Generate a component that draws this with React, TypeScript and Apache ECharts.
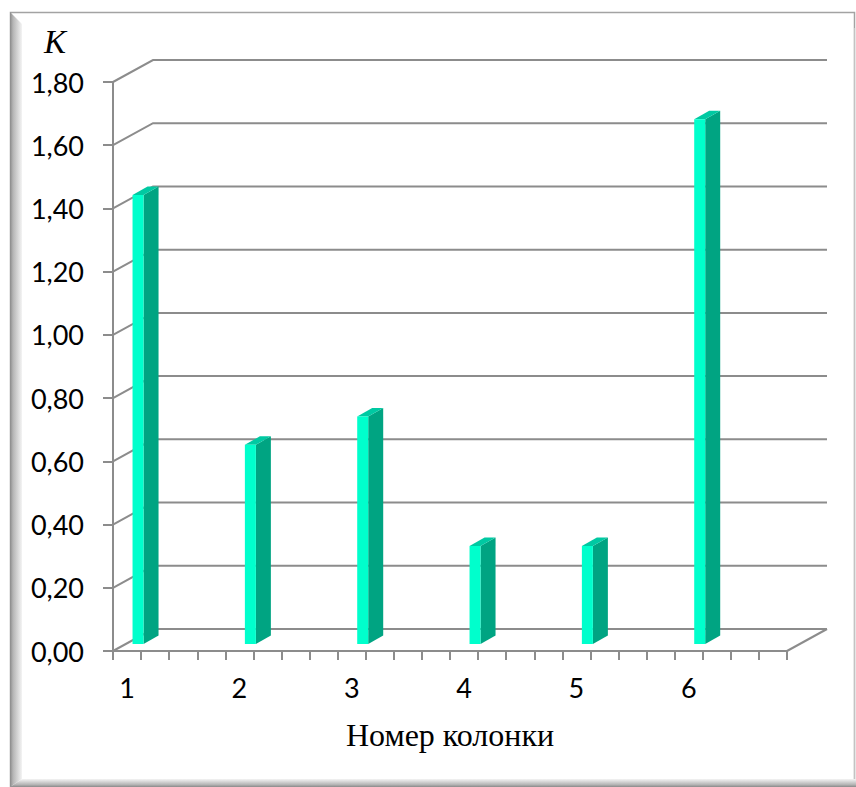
import React, { useEffect, useRef } from "react";
import * as echarts from "echarts";

// Column numbers and the coefficient K measured for each column
const columns = ["1", "2", "3", "4", "5", "6"];
const kValues = [1.42, 0.63, 0.72, 0.31, 0.31, 1.66];
// Value-axis ticks (also used for the gridlines on the back wall)
const yTicks = [0, 0.2, 0.4, 0.6, 0.8, 1.0, 1.2, 1.4, 1.6, 1.8];
// Each column occupies several minor slots on the category axis
const SLOTS_PER_COLUMN = 4;
const xAxisTitle = "Номер колонки";
const yAxisTitle = "K";

// Depth of the pseudo-3D box (back wall offset)
const WALL_DX = 40;
const WALL_DY = -22;
// Bar geometry inside the box
const BAR_SHIFT_X = 11;
const BAR_SHIFT_Y = -7;
const BAR_W = 11;
const BAR_DX = 15;
const BAR_DY = -8.5;

const GRID_COLOR = "#8c8c8c";
const FRONT_COLOR = "#00ffcc";
const SIDE_COLOR = "#00a482";
const TOP_COLOR = "#00c9a2";

const slotIds = Array.from({ length: columns.length * SLOTS_PER_COLUMN }, (_, i) => String(i));

export default function App() {
  const ref = useRef<HTMLDivElement>(null);

  useEffect(() => {
    if (!ref.current) return;
    const chart = echarts.init(ref.current, undefined, { renderer: "svg" });

    const wallSeries = {
      type: "custom",
      coordinateSystem: "cartesian2d",
      z: 1,
      silent: true,
      data: yTicks.map((v) => [0, v]),
      renderItem: (params: any, api: any) => {
        const cs = params.coordSys;
        const v = api.value(1);
        const yf = api.coord([0, v])[1];
        const left = cs.x;
        const right = cs.x + cs.width;
        const children: any[] = [
          {
            type: "polyline",
            shape: {
              points: [
                [left, yf],
                [left + WALL_DX, yf + WALL_DY],
                [right + WALL_DX, yf + WALL_DY],
              ],
            },
            style: { stroke: GRID_COLOR, lineWidth: 2, fill: "none" },
          },
        ];
        if (v === 0) {
          children.push({
            type: "line",
            shape: { x1: right, y1: yf, x2: right + WALL_DX, y2: yf + WALL_DY },
            style: { stroke: GRID_COLOR, lineWidth: 2 },
          });
        }
        return { type: "group", children };
      },
    };

    const barSeries = {
      type: "custom",
      coordinateSystem: "cartesian2d",
      z: 3,
      data: kValues.map((v, i) => [i * SLOTS_PER_COLUMN, v]),
      renderItem: (_params: any, api: any) => {
        const xi = api.value(0);
        const v = api.value(1);
        const top = api.coord([xi, v]);
        const base = api.coord([xi, 0]);
        const cx = top[0] + BAR_SHIFT_X;
        const x0 = cx - BAR_W / 2;
        const x1 = cx + BAR_W / 2;
        const yt = top[1] + BAR_SHIFT_Y;
        const yb = base[1] + BAR_SHIFT_Y;
        return {
          type: "group",
          children: [
            {
              type: "polygon",
              shape: { points: [[x1, yt], [x1 + BAR_DX, yt + BAR_DY], [x1 + BAR_DX, yb + BAR_DY], [x1, yb]] },
              style: { fill: SIDE_COLOR },
            },
            {
              type: "polygon",
              shape: { points: [[x0, yt], [x0 + BAR_DX, yt + BAR_DY], [x1 + BAR_DX, yt + BAR_DY], [x1, yt]] },
              style: { fill: TOP_COLOR },
            },
            {
              type: "polygon",
              shape: { points: [[x0, yt], [x1, yt], [x1, yb], [x0, yb]] },
              style: { fill: FRONT_COLOR },
            },
          ],
        };
      },
    };

    chart.setOption({
      animation: false,
      backgroundColor: "#ffffff",
      grid: { left: 113, top: 82, width: 674, height: 569, containLabel: false },
      xAxis: {
        type: "category",
        data: slotIds,
        boundaryGap: true,
        axisLine: { show: true, lineStyle: { color: GRID_COLOR, width: 2 } },
        axisTick: { show: true, interval: 0, length: 9, lineStyle: { color: GRID_COLOR, width: 2 } },
        axisLabel: {
          interval: 0,
          margin: 23,
          color: "#000000",
          fontFamily: "Lato",
          fontSize: 27,
          formatter: (_v: string, idx: number) =>
            idx % SLOTS_PER_COLUMN === 0 ? columns[idx / SLOTS_PER_COLUMN] : "",
        },
        splitLine: { show: false },
        name: xAxisTitle,
        nameLocation: "middle",
        nameGap: 68,
        nameTextStyle: { fontFamily: "Liberation Serif", fontSize: 32, color: "#000000" },
      },
      yAxis: {
        type: "value",
        min: 0,
        max: 1.8,
        interval: 0.2,
        axisLine: { show: true, lineStyle: { color: GRID_COLOR, width: 2 } },
        axisTick: { show: true, length: 10, lineStyle: { color: GRID_COLOR, width: 2 } },
        axisLabel: {
          margin: 29,
          color: "#000000",
          fontFamily: "Lato",
          fontSize: 27,
          formatter: (v: number) => v.toFixed(2).replace(".", ","),
        },
        splitLine: { show: false },
      },
      graphic: [
        {
          type: "rect",
          z: -10,
          silent: true,
          shape: { x: 10.5, y: 12.5, width: 844, height: 774 },
          style: { fill: "#ffffff", stroke: "#a3a3a3", lineWidth: 1.5 },
        },
        {
          type: "polygon",
          z: -9,
          silent: true,
          shape: { points: [[10, 12], [22, 24], [22, 779], [10, 787]] },
          style: {
            fill: new echarts.graphic.LinearGradient(0, 0, 1, 0, [
              { offset: 0, color: "#8a8a8a" },
              { offset: 0.25, color: "#b5b5b5" },
              { offset: 1, color: "#f4f4f4" },
            ]),
          },
        },
        {
          type: "polygon",
          z: -9,
          silent: true,
          shape: { points: [[10, 787], [22, 779], [856, 779], [856, 787]] },
          style: {
            fill: new echarts.graphic.LinearGradient(0, 0, 0, 1, [
              { offset: 0, color: "#f4f4f4" },
              { offset: 0.7, color: "#b5b5b5" },
              { offset: 1, color: "#8a8a8a" },
            ]),
          },
        },
        {
          type: "line",
          z: -9,
          silent: true,
          shape: { x1: 855, y1: 28, x2: 855, y2: 779 },
          style: { stroke: "#e3e3e3", lineWidth: 1 },
        },
        {
          type: "text",
          z: 5,
          left: 44,
          top: 25,
          style: {
            text: yAxisTitle,
            fontFamily: "Liberation Serif",
            fontStyle: "italic",
            fontSize: 33,
            fill: "#000000",
          },
        },
      ],
      series: [wallSeries, barSeries],
    });

    return () => chart.dispose();
  }, []);

  return (
    <div
      ref={ref}
      style={{ position: "absolute", left: 0, top: 0, width: 856, height: 787 }}
    />
  );
}
